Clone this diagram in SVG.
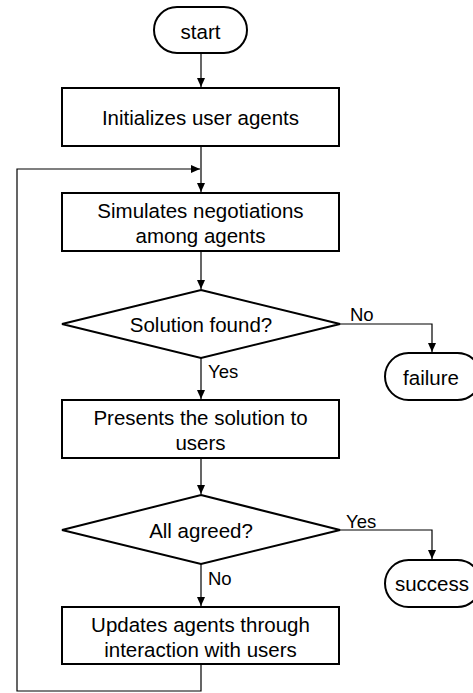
<svg xmlns="http://www.w3.org/2000/svg" width="473" height="693" viewBox="0 0 473 693">
<style>
.box{fill:#fff;stroke:#000;stroke-width:2}
.con{fill:none;stroke:#000;stroke-width:1.2}
text{font-family:"Liberation Sans",Arial,Helvetica,sans-serif;fill:#000}
.t{font-size:20.5px;text-anchor:middle}
.lbl{font-size:18.5px}
</style>
<defs>
<marker id="arr" markerWidth="10" markerHeight="10" refX="9" refY="4" orient="auto" markerUnits="userSpaceOnUse">
<path d="M0,0 L9,4 L0,8 Z" fill="#000"/>
</marker>
</defs>
<rect width="473" height="693" fill="#fff"/>
<g id="connectors">
<line class="con" x1="201" y1="53" x2="201" y2="87" marker-end="url(#arr)"/>
<line class="con" x1="201" y1="146" x2="201" y2="192" marker-end="url(#arr)"/>
<polyline class="con" points="201,664 201,691 17,691 17,169 200,169" marker-end="url(#arr)"/>
<line class="con" x1="201" y1="251" x2="201" y2="289" marker-end="url(#arr)"/>
<polyline class="con" points="340,324 432,324 432,352" marker-end="url(#arr)"/>
<line class="con" x1="201" y1="358" x2="201" y2="399" marker-end="url(#arr)"/>
<line class="con" x1="201" y1="458" x2="201" y2="494" marker-end="url(#arr)"/>
<polyline class="con" points="340,530 432,530 432,559" marker-end="url(#arr)"/>
<line class="con" x1="201" y1="564" x2="201" y2="606" marker-end="url(#arr)"/>
<text class="lbl" x="350" y="321">No</text>
<text class="lbl" x="208" y="378">Yes</text>
<text class="lbl" x="346" y="528">Yes</text>
<text class="lbl" x="208" y="585">No</text>
</g>
<g id="start">
<rect class="box" x="154" y="7" width="93" height="46" rx="23" ry="23"/>
<text class="t" x="200.5" y="38.5">start</text>
</g>
<g id="init">
<rect class="box" x="62" y="88" width="277" height="58"/>
<text class="t" x="200.5" y="125">Initializes user agents</text>
</g>
<g id="simulate">
<rect class="box" x="62" y="193" width="277" height="58"/>
<text class="t" x="200.5" y="218">Simulates negotiations</text>
<text class="t" x="200.5" y="243">among agents</text>
</g>
<g id="found">
<polygon class="box" points="201,290 340,324 201,358 62,324"/>
<text class="t" x="201" y="332">Solution found?</text>
</g>
<g id="failure">
<rect class="box" x="385" y="353" width="96" height="47" rx="23.5" ry="23.5"/>
<text class="t" x="431" y="384.5">failure</text>
</g>
<g id="present">
<rect class="box" x="62" y="400" width="277" height="58"/>
<text class="t" x="200.5" y="425">Presents the solution to</text>
<text class="t" x="200.5" y="450">users</text>
</g>
<g id="agreed">
<polygon class="box" points="201,495 340,530 201,564 62,530"/>
<text class="t" x="201" y="538">All agreed?</text>
</g>
<g id="success">
<rect class="box" x="385" y="560" width="96" height="47" rx="23.5" ry="23.5"/>
<text class="t" x="432" y="591">success</text>
</g>
<g id="update">
<rect class="box" x="62" y="607" width="277" height="57"/>
<text class="t" x="200.5" y="632">Updates agents through</text>
<text class="t" x="200.5" y="657">interaction with users</text>
</g>
</svg>
